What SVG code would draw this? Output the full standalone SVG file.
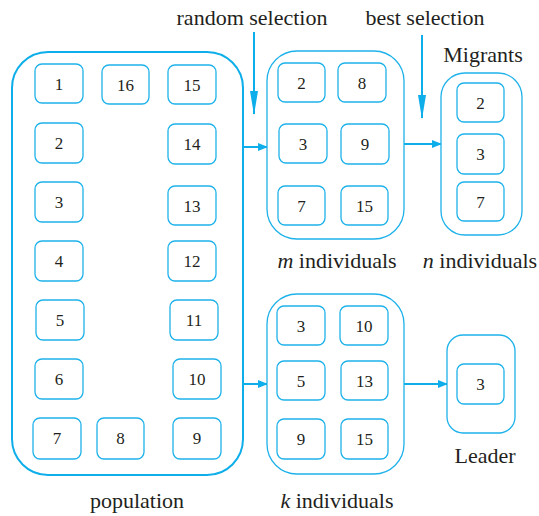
<svg xmlns="http://www.w3.org/2000/svg" width="539" height="516" viewBox="0 0 539 516">
<defs>
<style>
.outer{fill:none;stroke:#0eaeea;stroke-width:2}
.box{fill:#fff;stroke:#1eb2ea;stroke-width:1.3}
.num{font-family:"Liberation Serif",serif;font-size:17px;fill:#231f20;text-anchor:middle}
.lbl{font-family:"Liberation Serif",serif;font-size:22px;fill:#231f20;text-anchor:middle}
.con{fill:none;stroke:#0eaeea;stroke-width:2}
</style>
<marker id="ah" markerWidth="10" markerHeight="8" refX="9" refY="4" orient="auto" markerUnits="userSpaceOnUse"><path d="M0,0 L10,4 L0,8 Z" fill="#0eaeea"/></marker>
<marker id="ahl" markerWidth="24" markerHeight="8" refX="23" refY="4" orient="auto" markerUnits="userSpaceOnUse"><path d="M0,0 L24,4 L0,8 Z" fill="#0eaeea"/></marker>
</defs>
<rect width="539" height="516" fill="#fff"/>

<g id="connectors">
<line class="con" x1="254" y1="32" x2="254" y2="114" marker-end="url(#ahl)"/>
<line class="con" x1="422" y1="35" x2="422" y2="118" marker-end="url(#ahl)"/>
<line class="con" x1="243" y1="147" x2="267" y2="147" marker-end="url(#ah)"/>
<line class="con" x1="403" y1="144" x2="441" y2="144" marker-end="url(#ah)"/>
<line class="con" x1="243" y1="384" x2="267" y2="384" marker-end="url(#ah)"/>
<line class="con" x1="403" y1="384" x2="447" y2="384" marker-end="url(#ah)"/>
</g>

<g id="population">
<rect class="outer" x="12" y="52" width="231" height="423" rx="36"/>
<text class="lbl" x="137" y="508">population</text>
</g>
<g id="p1"><rect class="box" x="35" y="64" width="48" height="39" rx="7"/><text class="num" x="59" y="90">1</text></g>
<g id="p16"><rect class="box" x="102" y="65" width="47" height="39" rx="7"/><text class="num" x="125.5" y="91">16</text></g>
<g id="p15"><rect class="box" x="168" y="65" width="48" height="39" rx="7"/><text class="num" x="192" y="91">15</text></g>
<g id="p2"><rect class="box" x="35" y="123" width="48" height="40" rx="7"/><text class="num" x="59" y="149">2</text></g>
<g id="p14"><rect class="box" x="168" y="124" width="48" height="40" rx="7"/><text class="num" x="192" y="150">14</text></g>
<g id="p3"><rect class="box" x="35" y="182" width="48" height="40" rx="7"/><text class="num" x="59" y="208">3</text></g>
<g id="p13"><rect class="box" x="168" y="186" width="48" height="39" rx="7"/><text class="num" x="192" y="212">13</text></g>
<g id="p4"><rect class="box" x="35" y="241" width="48" height="40" rx="7"/><text class="num" x="59" y="267">4</text></g>
<g id="p12"><rect class="box" x="168" y="241" width="48" height="40" rx="7"/><text class="num" x="192" y="267">12</text></g>
<g id="p5"><rect class="box" x="36" y="300" width="48" height="40" rx="7"/><text class="num" x="60" y="326">5</text></g>
<g id="p11"><rect class="box" x="170" y="300" width="48" height="40" rx="7"/><text class="num" x="194" y="326">11</text></g>
<g id="p6"><rect class="box" x="35" y="359" width="48" height="40" rx="7"/><text class="num" x="59" y="385">6</text></g>
<g id="p10"><rect class="box" x="173" y="359" width="48" height="40" rx="7"/><text class="num" x="197" y="385">10</text></g>
<g id="p7"><rect class="box" x="33" y="418" width="48" height="41" rx="7"/><text class="num" x="57" y="444">7</text></g>
<g id="p8"><rect class="box" x="97" y="418" width="47" height="41" rx="7"/><text class="num" x="120.5" y="444">8</text></g>
<g id="p9"><rect class="box" x="173" y="418" width="48" height="41" rx="7"/><text class="num" x="197" y="444">9</text></g>

<g id="random-label"><text class="lbl" x="252" y="25">random selection</text></g>
<g id="best-label"><text class="lbl" x="425" y="25">best selection</text></g>

<g id="m-group">
<rect class="box" x="267" y="51" width="137" height="188" rx="30"/>
<text class="lbl" x="337" y="268"><tspan font-style="italic">m</tspan> individuals</text>
</g>
<g id="m2"><rect class="box" x="278" y="63" width="47" height="39" rx="7"/><text class="num" x="301.5" y="89">2</text></g>
<g id="m8"><rect class="box" x="338" y="63" width="48" height="39" rx="7"/><text class="num" x="362" y="89">8</text></g>
<g id="m3"><rect class="box" x="279" y="124" width="48" height="39" rx="7"/><text class="num" x="303" y="150">3</text></g>
<g id="m9"><rect class="box" x="341" y="124" width="48" height="40" rx="7"/><text class="num" x="365" y="150">9</text></g>
<g id="m7"><rect class="box" x="278" y="186" width="47" height="39" rx="7"/><text class="num" x="301.5" y="212">7</text></g>
<g id="m15"><rect class="box" x="341" y="186" width="47" height="39" rx="7"/><text class="num" x="364.5" y="212">15</text></g>

<g id="migrants">
<rect class="box" x="441" y="73" width="81" height="162" rx="24"/>
<text class="lbl" x="483" y="62">Migrants</text>
<text class="lbl" x="480" y="268"><tspan font-style="italic">n</tspan> individuals</text>
</g>
<g id="g2"><rect class="box" x="457" y="83" width="47" height="39" rx="7"/><text class="num" x="480.5" y="109">2</text></g>
<g id="g3"><rect class="box" x="457" y="134" width="47" height="40" rx="7"/><text class="num" x="480.5" y="160">3</text></g>
<g id="g7"><rect class="box" x="457" y="182" width="47" height="39" rx="7"/><text class="num" x="480.5" y="208">7</text></g>

<g id="k-group">
<rect class="box" x="267" y="294" width="137" height="180" rx="30"/>
<text class="lbl" x="337" y="508"><tspan font-style="italic">k</tspan> individuals</text>
</g>
<g id="k3"><rect class="box" x="277" y="306" width="48" height="39" rx="7"/><text class="num" x="301" y="332">3</text></g>
<g id="k10"><rect class="box" x="340" y="306" width="48" height="39" rx="7"/><text class="num" x="364" y="332">10</text></g>
<g id="k5"><rect class="box" x="277" y="361" width="48" height="39" rx="7"/><text class="num" x="301" y="387">5</text></g>
<g id="k13"><rect class="box" x="341" y="361" width="47" height="39" rx="7"/><text class="num" x="364.5" y="387">13</text></g>
<g id="k9"><rect class="box" x="277" y="419" width="48" height="40" rx="7"/><text class="num" x="301" y="445">9</text></g>
<g id="k15"><rect class="box" x="341" y="419" width="47" height="40" rx="7"/><text class="num" x="364.5" y="445">15</text></g>

<g id="leader">
<rect class="box" x="447" y="335" width="68" height="98" rx="16"/>
<text class="lbl" x="485" y="463">Leader</text>
</g>
<g id="l3"><rect class="box" x="457" y="364" width="47" height="40" rx="7"/><text class="num" x="480.5" y="390">3</text></g>
</svg>
